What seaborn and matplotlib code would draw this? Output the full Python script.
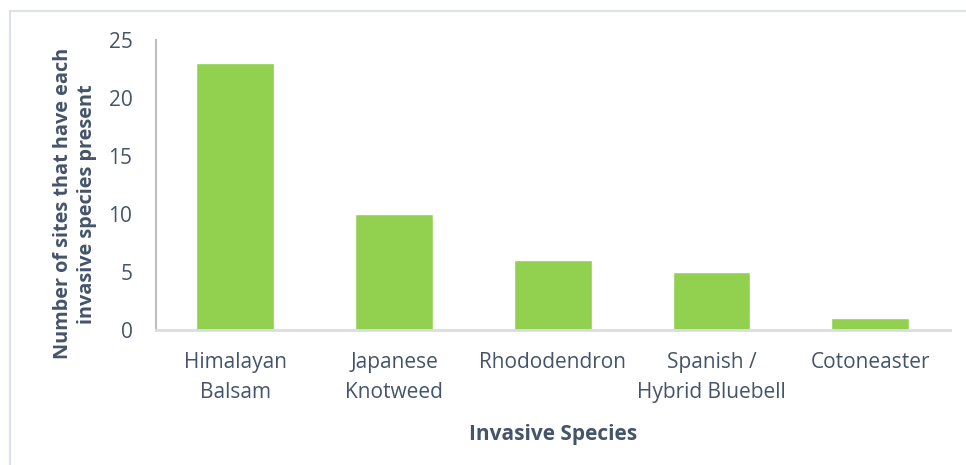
import matplotlib
matplotlib.use("Agg")
import matplotlib.pyplot as plt
from matplotlib.patches import Rectangle
import seaborn as sns
import pandas as pd

species = ["Himalayan\nBalsam", "Japanese\nKnotweed", "Rhododendron",
           "Spanish /\nHybrid Bluebell", "Cotoneaster"]
site_counts = [23, 10, 6, 5, 1]
y_ticks = [0, 5, 10, 15, 20, 25]

text_color = "#44546A"
bar_color = "#92D050"

sns.set_theme(style="white")
plt.rcParams["font.family"] = ["Open Sans", "DejaVu Sans"]

df = pd.DataFrame({"Species": species, "Sites": site_counts})

fig = plt.figure(figsize=(9.66, 4.65), dpi=100)
ax = fig.add_axes([0.1615, 0.2903, 0.8215, 0.6237])

sns.barplot(data=df, x="Species", y="Sites", color=bar_color,
            saturation=1, width=0.49, ax=ax)

ax.set_ylim(0, 25)
ax.set_yticks(y_ticks)
ax.set_xlim(-0.5, len(species) - 0.5)
ax.tick_params(axis="both", length=0, colors=text_color, labelsize=15)
ax.tick_params(axis="y", pad=17)
ax.tick_params(axis="x", pad=16)
for lbl in ax.get_xticklabels():
    lbl.set_linespacing(1.55)

for side in ["top", "right"]:
    ax.spines[side].set_visible(False)
ax.spines["left"].set_color("#BFBFBF")
ax.spines["left"].set_linewidth(1.5)
ax.spines["bottom"].set_color("#D9DDE3")
ax.spines["bottom"].set_linewidth(2)

ax.set_xlabel("Invasive Species", fontsize=15, fontweight="bold",
              color=text_color)
ax.xaxis.set_label_coords(0.5, -0.325)
ax.set_ylabel("Number of sites that have each\ninvasive species present",
              fontsize=14.3, fontweight="bold", color=text_color,
              linespacing=1.3)
ax.yaxis.set_label_coords(-0.074, 0.435)

# light frame around the chart area
fig.patches.append(Rectangle((10 / 966, -0.1), 1.2, 1 - 11 / 465 + 0.1,
                             transform=fig.transFigure, fill=False,
                             edgecolor="#DDE2EA", linewidth=1.5))

fig.savefig("out.png", dpi=100)
